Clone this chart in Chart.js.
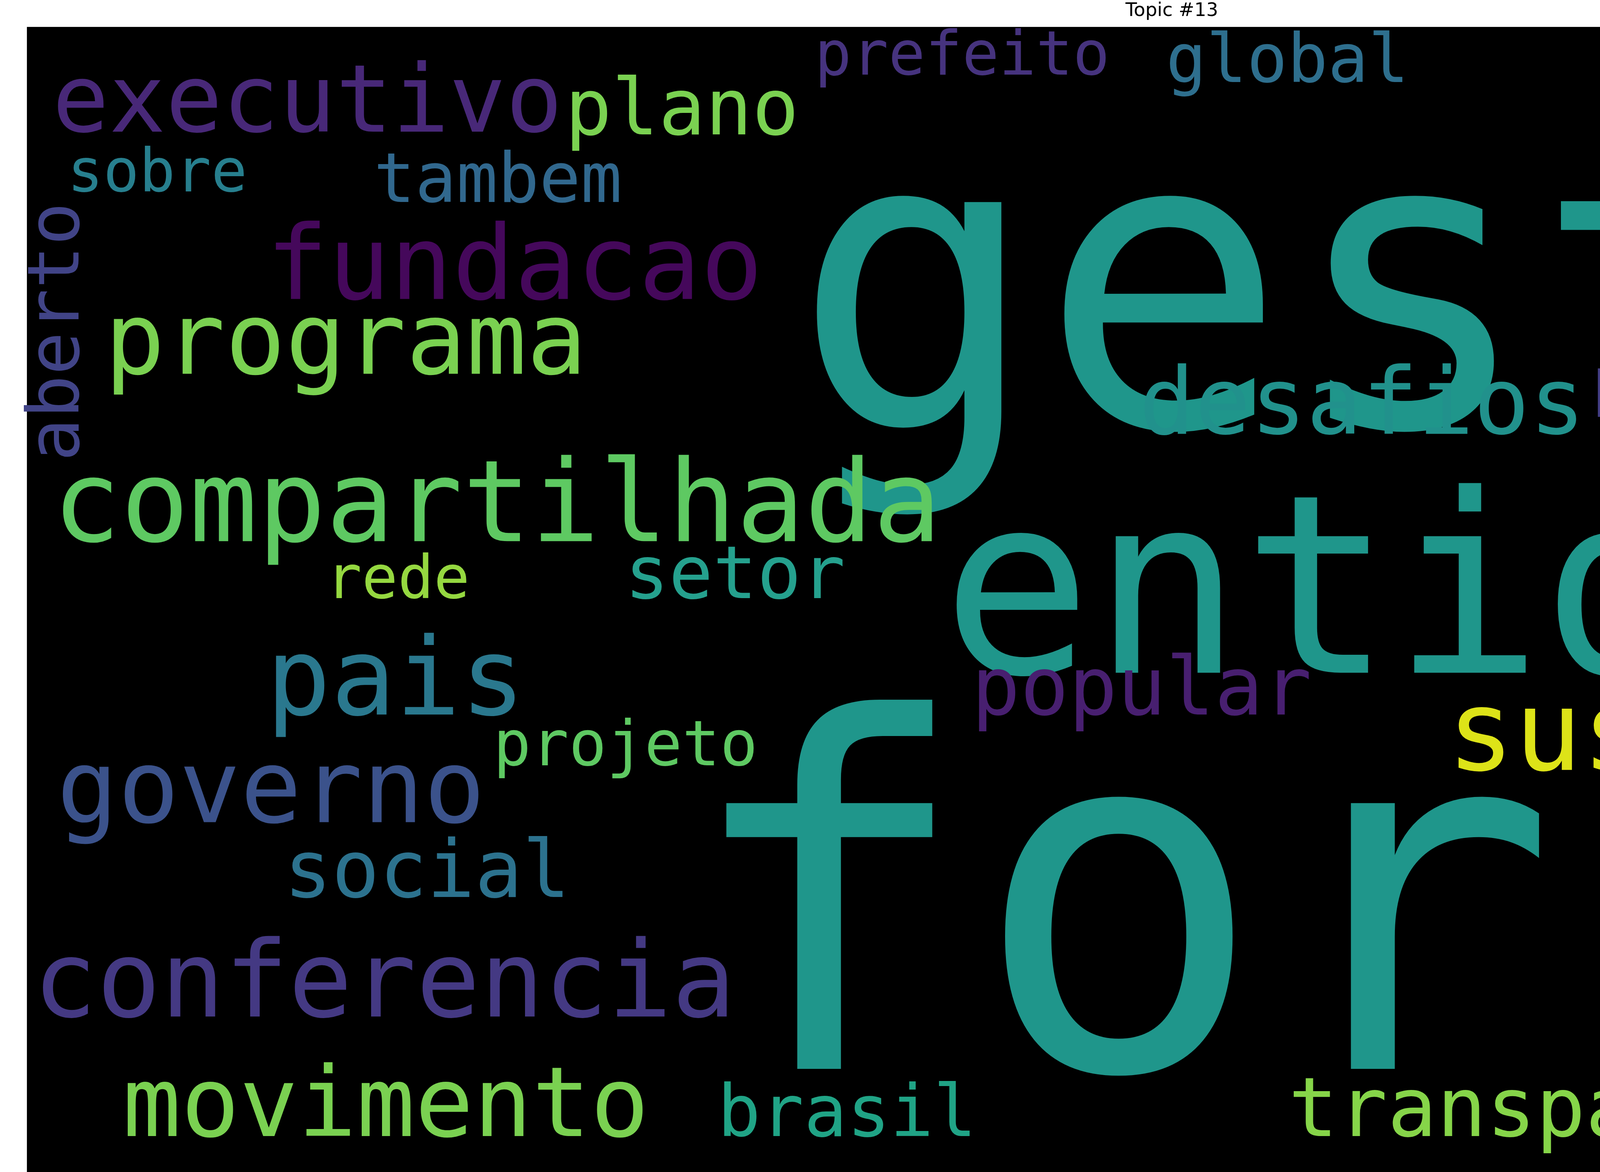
<!DOCTYPE html>
<html>
<head>
<meta charset="utf-8">
<script src="https://cdn.jsdelivr.net/npm/chart.js@4/dist/chart.umd.min.js"></script>
<style>
  html, body { margin: 0; padding: 0; background: #ffffff; overflow: hidden; }
  #cloud { display: block; width: 6000px; height: 3000px; }
</style>
</head>
<body>
<canvas id="cloud" width="6000" height="3000"></canvas>
<script>
// words and where the cloud put them (left x / baseline y, in picture units 0..1568 x 0..784)
const words = ["gestao", "forum", "entidades", "compartilhada", "conferencia", "sustentavel",
  "programa", "fundacao", "executivo", "plano", "pais", "governo", "movimento", "transparencia",
  "desafios", "participacao", "maio", "popular", "social", "projeto", "rede", "setor", "tambem",
  "sobre", "global", "prefeito", "primeira", "brasil", "evento", "aberto"];
const wordX = [530, 455, 630, 35, 22, 968, 70, 178, 35, 378, 178, 38, 82, 862,
  762, 1065, 1378, 650, 190, 330, 218, 418, 250, 45, 780, 545, 1163, 480, 1315, 40];
const wordY = [285, 715, 450, 362, 680, 515, 250, 200, 88, 90, 478, 550, 760, 760,
  290, 270, 288, 478, 600, 512, 400, 400, 135, 128, 55, 50, 55, 760, 765, 222];
// relative weight -> font size in picture units
const wordSize = [275, 325, 167, 76, 71, 75, 67, 69, 63, 52, 72, 68, 65, 55,
  62, 43, 43, 54, 53, 42, 40, 49, 46, 40, 45, 41, 41, 48, 50, 48];
const vertical = ["aberto"];
const palette = ["#1f968b", "#1f968b", "#1f968b", "#5ec962", "#443983", "#dde318",
  "#7ad151", "#45085b", "#482878", "#7ad151", "#2a788e", "#3b528b", "#7ad151", "#86d549",
  "#21918c", "#433e85", "#2ab07f", "#481f70", "#2c728e", "#5ec962", "#95d840", "#25a18e", "#31688e",
  "#277f8e", "#2e6f8e", "#46337e", "#472d7b", "#20a486", "#481668", "#414487"];

const S = 6000 / 1568;

const cloudPlugin = {
  id: 'cloud',
  beforeDraw(chart) {
    const a = chart.chartArea, ctx = chart.ctx;
    ctx.save();
    ctx.fillStyle = '#000000';
    ctx.fillRect(a.left, a.top, a.right - a.left, a.bottom - a.top);
    ctx.restore();
  },
  afterDatasetsDraw(chart) {
    const ctx = chart.ctx;
    const xs = chart.scales.x;
    const unit = Math.abs(xs.getPixelForValue(1) - xs.getPixelForValue(0));
    const meta = chart.getDatasetMeta(0);
    ctx.save();
    words.forEach((w, i) => {
      const p = meta.data[i];
      ctx.fillStyle = palette[i];
      ctx.font = (wordSize[i] * unit) + 'px "DejaVu Sans Mono", monospace';
      if (vertical.includes(w)) {
        ctx.save();
        ctx.translate(p.x, p.y);
        ctx.rotate(-Math.PI / 2);
        ctx.textAlign = 'center';
        ctx.textBaseline = 'middle';
        ctx.fillText(w, 0, 0);
        ctx.restore();
      } else {
        ctx.textAlign = 'left';
        ctx.textBaseline = 'alphabetic';
        ctx.fillText(w, p.x, p.y);
      }
    });
    ctx.restore();
  }
};

new Chart(document.getElementById('cloud'), {
  type: 'scatter',
  data: {
    datasets: [{
      data: words.map((w, i) => ({ x: wordX[i], y: wordY[i] })),
      pointRadius: 0
    }]
  },
  options: {
    responsive: false,
    animation: false,
    devicePixelRatio: 1,
    layout: { padding: { left: 18 * S, right: 18 * S, top: 0, bottom: 0 } },
    scales: {
      x: { type: 'linear', min: 18, max: 1550, display: false },
      y: { type: 'linear', min: 18, max: 784, reverse: true, display: false }
    },
    plugins: {
      legend: { display: false },
      tooltip: { enabled: false },
      title: {
        display: true,
        text: 'Topic #13',
        color: '#000000',
        font: { family: 'DejaVu Sans', size: 48, weight: 'normal' },
        padding: { top: 0, bottom: 18 * S - 48 * 1.2 }
      }
    }
  },
  plugins: [cloudPlugin]
});
</script>
</body>
</html>
